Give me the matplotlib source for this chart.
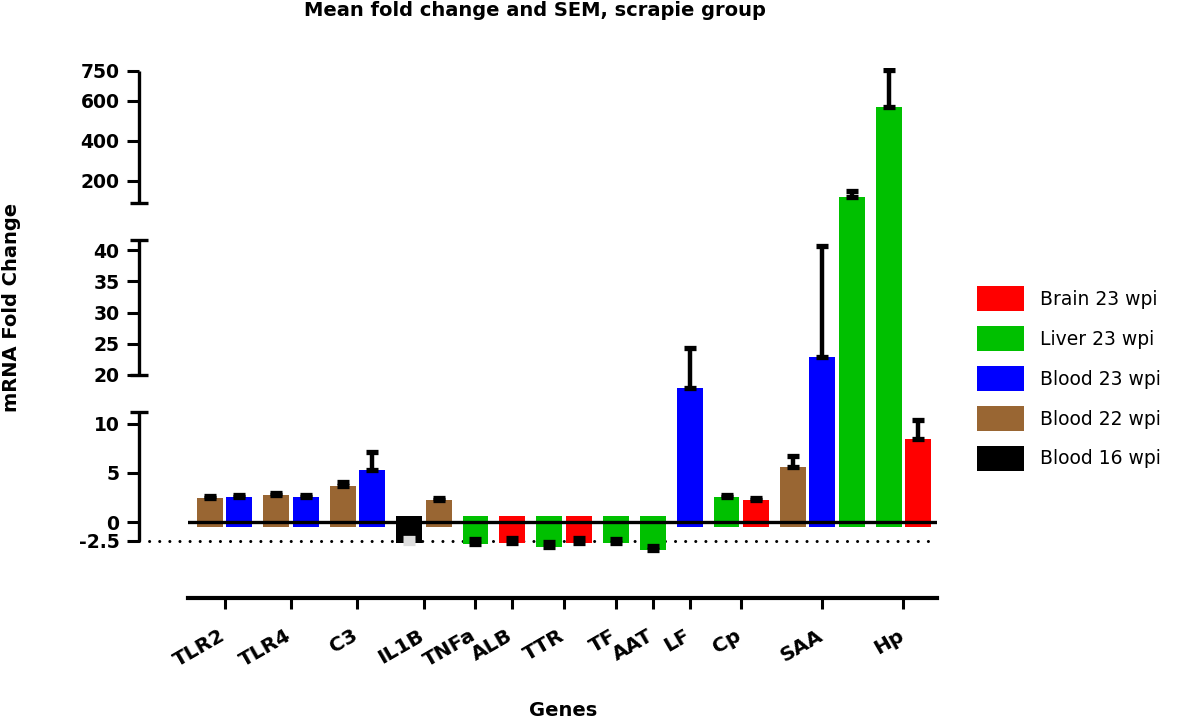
import numpy as np
import matplotlib
matplotlib.use("Agg")
import matplotlib.pyplot as plt
import matplotlib.transforms as mtransforms
from matplotlib.patches import Patch

nan = np.nan
genes = ["TLR2", "TLR4", "C3", "IL1B", "TNFa", "ALB", "TTR", "TF", "AAT", "LF", "Cp", "SAA", "Hp"]

blood16 = [nan, nan, nan, -2.76, nan, nan, nan, nan, nan, nan, nan, nan, nan]
blood16_err = [nan, nan, nan, 0.6, nan, nan, nan, nan, nan, nan, nan, nan, nan]
blood22 = [2.4, 2.75, 3.7, 2.25, nan, nan, nan, nan, nan, nan, nan, 5.6, nan]
blood22_err = [0.2, 0.2, 0.35, 0.15, nan, nan, nan, nan, nan, nan, nan, 1.1, nan]
blood23 = [2.5, 2.55, 5.3, nan, nan, nan, nan, nan, nan, 16.9, nan, 22.9, nan]
blood23_err = [0.25, 0.25, 1.8, nan, nan, nan, nan, nan, nan, 7.4, nan, 17.7, nan]
liver23 = [nan, nan, nan, nan, -2.9, nan, -3.25, -2.8, -3.7, nan, 2.55, 120, 570]
liver23_err = [nan, nan, nan, nan, 0.6, nan, 0.6, 0.6, 0.6, nan, 0.15, 30, 185]
brain23 = [nan, nan, nan, nan, nan, -2.76, -2.7, nan, nan, nan, 2.25, nan, 8.5]
brain23_err = [nan, nan, nan, nan, nan, 0.6, 0.6, nan, nan, nan, 0.15, nan, 1.9]

series = [
    ("Blood 16 wpi", blood16, blood16_err, "#000000"),
    ("Blood 22 wpi", blood22, blood22_err, "#996633"),
    ("Blood 23 wpi", blood23, blood23_err, "#0000ff"),
    ("Liver 23 wpi", liver23, liver23_err, "#00c000"),
    ("Brain 23 wpi", brain23, brain23_err, "#ff0000"),
]

yticks = [-2.5, 0, 5, 10, 20, 25, 30, 35, 40, 200, 400, 600, 750]
ytick_labels = ["-2.5", "0", "5", "10", "20", "25", "30", "35", "40", "200", "400", "600", "750"]

# broken y axis as one piecewise-linear scale (value -> pixel height above zero)
KV = np.array([-100, -2.5, 0, 11.2, 20, 41.6, 90, 750, 5000])
KU = np.array([-19 - 97.5 * 7.6, -19, 0, 110, 147, 282, 319, 451, 451 + 4250 * 0.2])
SEGMENTS = [(-2.5, 11.2), (20, 41.6), (90, 750)]
BREAKS = [11.2, 20, 41.6, 90]


def fwd(v):
    return np.interp(np.asarray(v, dtype=float), KV, KU)


def inv(u):
    return np.interp(np.asarray(u, dtype=float), KU, KV)


plt.rcParams["font.family"] = "DejaVu Sans"
plt.rcParams["font.weight"] = "bold"

fig = plt.figure(figsize=(11.77, 7.18), dpi=100)
ax = fig.add_axes([188 / 1177, 1 - 598 / 718, 749 / 1177, 530 / 718])
ax.set_yscale("function", functions=(fwd, inv))
ax.set_ylim(-10, 765)

W = 0.88
GROUP_STEP = 1.254
pos = 0.0
centers = []
for gi, g in enumerate(genes):
    present = [s for s in series if not np.isnan(s[1][gi])]
    xs = pos + np.arange(len(present))
    for k, (name, vals, errs, col) in enumerate(present):
        v = vals[gi]
        base = -0.65 if v > 0 else 0.6
        ax.bar(xs[k], v - base, bottom=base, width=W, color=col, zorder=2)
        ecol = "#dddddd" if col == "#000000" else "black"
        ax.errorbar(xs[k], v, yerr=[[0], [errs[gi]]], fmt="none", ecolor=ecol,
                    elinewidth=3.2, capsize=4, capthick=3.8, zorder=4)
    centers.append(xs.mean())
    pos = xs[-1] + GROUP_STEP

ax.set_xlim(-0.746, pos - GROUP_STEP + 0.64)
ax.axhline(0, color="black", lw=2.4, zorder=3)

sx = (139 - 188) / 749
d = 9 / 749
trans = mtransforms.blended_transform_factory(ax.transAxes, ax.transData)
ax.plot([sx, 0.991], [-2.5, -2.5], transform=trans, color="black", lw=2.2,
        ls=(0, (0.01, 3.3)), dash_capstyle="round", clip_on=False, zorder=1)
for lo, hi in SEGMENTS:
    ax.plot([sx, sx], [lo, hi], transform=trans, color="black", lw=2.4,
            clip_on=False, solid_capstyle="butt")
for b in BREAKS:
    ax.plot([sx - d, sx + d], [b, b], transform=trans, color="black", lw=2.4,
            clip_on=False, solid_capstyle="butt")

for s in ["top", "right"]:
    ax.spines[s].set_visible(False)
ax.spines["left"].set_position(("axes", sx))
ax.spines["left"].set_visible(False)
ax.spines["bottom"].set_linewidth(3)

ax.set_yticks(yticks)
ax.set_yticklabels(ytick_labels)
ax.yaxis.set_minor_locator(matplotlib.ticker.NullLocator())
ax.tick_params(axis="y", length=9, width=2.2, labelsize=13.5, pad=5)
ax.set_xticks(centers)
ax.set_xticklabels(genes, rotation=30, ha="right", rotation_mode="anchor")
ax.tick_params(axis="x", length=8, width=2.2, labelsize=14.5, pad=12)
shift = mtransforms.ScaledTranslation(-6 / 100, 0, fig.dpi_scale_trans)
for lab in ax.get_xticklabels():
    lab.set_transform(lab.get_transform() + shift)

fig.text(535 / 1177, 1 - 11 / 718, "Mean fold change and SEM, scrapie group",
         ha="center", va="center", fontsize=14, fontweight="bold")
fig.text(12 / 1177, 1 - 307 / 718, "mRNA Fold Change", rotation=90,
         ha="center", va="center", fontsize=14, fontweight="bold")
fig.text(563 / 1177, 1 - 710 / 718, "Genes", ha="center", va="center",
         fontsize=14, fontweight="bold")

handles = [Patch(facecolor=s[3]) for s in series[::-1]]
labels = [s[0] for s in series[::-1]]
fig.legend(handles, labels, loc="upper left", bbox_to_anchor=(977 / 1177, 1 - 286 / 718),
           frameon=False, borderpad=0, borderaxespad=0,
           prop={"size": 13.5, "weight": "normal"}, handlelength=2.5, handleheight=1.7,
           labelspacing=0.78, handletextpad=0.85)

fig.savefig("out.png", dpi=100)
